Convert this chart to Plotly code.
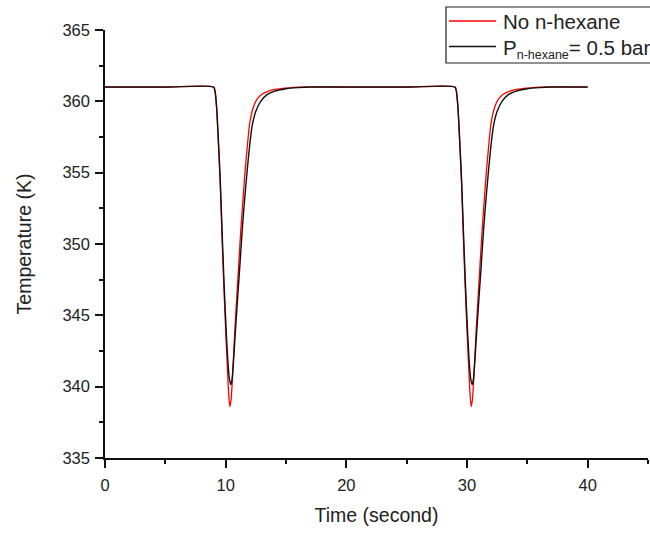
import plotly.graph_objects as go

# Time (s) and temperature (K)
t_no_hexane = [0, 5, 9.0, 9.12, 9.25, 9.4, 9.55, 9.7, 9.85, 10.0, 10.15, 10.25, 10.35, 10.45,
               10.6, 10.75, 10.9, 11.07, 11.25, 11.45, 11.6, 11.8, 12.0, 12.3, 12.6, 13.0, 13.5,
               14.2, 15.0, 16.0, 20.0, 25.0,
               29.0, 29.12, 29.25, 29.4, 29.55, 29.7, 29.85, 30.0, 30.15, 30.25, 30.35, 30.45,
               30.6, 30.75, 30.9, 31.07, 31.25, 31.45, 31.6, 31.8, 32.0, 32.3, 32.6, 33.0, 33.5,
               34.2, 35.0, 36.0, 40.0]
T_no_hexane = [361.0, 361.0, 361.0, 360.7, 359.5, 357.0, 354.2, 350.5, 347.0, 344.0, 341.2, 339.5,
               338.6, 339.1, 341.2, 343.8, 346.0, 348.4, 350.9, 353.3, 355.0, 356.9, 358.5, 359.6,
               360.15, 360.5, 360.7, 360.85, 360.93, 361.0, 361.0, 361.0,
               361.0, 360.7, 359.5, 357.0, 354.2, 350.5, 347.0, 344.0, 341.2, 339.5,
               338.6, 339.1, 341.2, 343.8, 346.0, 348.4, 350.9, 353.3, 355.0, 356.9, 358.5, 359.6,
               360.15, 360.5, 360.7, 360.85, 360.93, 361.0, 361.0]

t_hexane = [0, 5, 9.0, 9.12, 9.25, 9.4, 9.55, 9.7, 9.85, 10.0, 10.15, 10.3, 10.42, 10.52, 10.65,
            10.8, 11.0, 11.17, 11.4, 11.6, 11.8, 12.0, 12.2, 12.5, 12.9, 13.4, 14.0, 15.0, 16.0,
            17.0, 20.0, 25.0,
            29.0, 29.12, 29.25, 29.4, 29.55, 29.7, 29.85, 30.0, 30.15, 30.3, 30.42, 30.52, 30.65,
            30.8, 31.0, 31.17, 31.4, 31.6, 31.8, 32.0, 32.2, 32.5, 32.9, 33.4, 34.0, 35.0, 36.0,
            37.0, 40.0]
T_hexane = [361.0, 361.0, 361.0, 360.7, 359.6, 357.2, 354.5, 351.0, 347.6, 344.7, 342.2, 340.6,
            340.15, 340.45, 341.8, 343.8, 346.3, 348.4, 351.3, 353.4, 355.3, 357.0, 358.3, 359.3,
            360.0, 360.45, 360.7, 360.88, 360.96, 361.0, 361.0, 361.0,
            361.0, 360.7, 359.6, 357.2, 354.5, 351.0, 347.6, 344.7, 342.2, 340.6,
            340.15, 340.45, 341.8, 343.8, 346.3, 348.4, 351.3, 353.4, 355.3, 357.0, 358.3, 359.3,
            360.0, 360.45, 360.7, 360.88, 360.96, 361.0, 361.0]

series_names = ["No n-hexane",
                "P<sub><span style='font-size:12.5px'>n-hexane</span></sub>= 0.5 bar"]

FONT = "Liberation Sans, Arial, sans-serif"

fig = go.Figure()
fig.add_trace(go.Scatter(x=t_no_hexane, y=T_no_hexane, mode="lines", name="No n-hexane",
                         line=dict(color="#ff0000", width=1.3, shape="spline", smoothing=0.7),
                         showlegend=False))
fig.add_trace(go.Scatter(x=t_hexane, y=T_hexane, mode="lines", name="P n-hexane = 0.5 bar",
                         line=dict(color="#111111", width=1.4, shape="spline", smoothing=0.7),
                         showlegend=False))

axis_common = dict(showline=True, linecolor="#111", linewidth=1.5, ticks="outside",
                   ticklen=8, tickwidth=1.5, tickcolor="#111", showgrid=False, zeroline=False,
                   mirror=False, tickfont=dict(family=FONT, size=16.5, color="#222"))

fig.update_xaxes(range=[0, 45], dtick=10, tick0=0, ticklabelstandoff=3,
                 minor=dict(ticks="outside", dtick=5, ticklen=4, tickwidth=1.5, tickcolor="#111"),
                 title=dict(text="Time (second)", font=dict(family=FONT, size=19.5, color="#222"),
                            standoff=16),
                 **axis_common)
fig.update_yaxes(range=[335, 365], dtick=5, tick0=335, ticklabelstandoff=2,
                 minor=dict(ticks="outside", dtick=2.5, ticklen=4, tickwidth=1.5, tickcolor="#111"),
                 title=dict(text="Temperature (K)", font=dict(family=FONT, size=19.5, color="#222"),
                            standoff=26),
                 **axis_common)

# Legend box drawn by hand (paper coords relative to the plot area)
X0, W = 105.0, 543.0
Y1, H = 458.0, 428.0
def px(x):
    return (x - X0) / W
def py(y):
    return (Y1 - y) / H

fig.add_shape(type="rect", xref="paper", yref="paper", x0=px(446), x1=px(700), y0=py(63), y1=py(7),
              line=dict(color="#222", width=1.2), fillcolor="white")
fig.add_shape(type="line", xref="paper", yref="paper", x0=px(449), x1=px(496), y0=py(21), y1=py(21),
              line=dict(color="#ff0000", width=1.3))
fig.add_shape(type="line", xref="paper", yref="paper", x0=px(449), x1=px(496), y0=py(46.5), y1=py(46.5),
              line=dict(color="#111", width=1.4))
fig.add_annotation(xref="paper", yref="paper", x=px(501), y=py(21.5), text=series_names[0],
                   showarrow=False, xanchor="left", yanchor="middle",
                   font=dict(family=FONT, size=20.5, color="#222"))
fig.add_annotation(xref="paper", yref="paper", x=px(501), y=py(49), text=series_names[1],
                   showarrow=False, xanchor="left", yanchor="middle",
                   font=dict(family=FONT, size=20.5, color="#222"))

fig.update_layout(width=650, height=533, margin=dict(l=105, r=2, t=30, b=75, autoexpand=False),
                  paper_bgcolor="white", plot_bgcolor="white", showlegend=False,
                  font=dict(family=FONT, color="#222"))

# remove the browser's default 8px body margin so the figure fills the window exactly
fig.write_html("out.html", config={"displayModeBar": False},
               post_script="document.body.style.margin='0px';document.body.style.overflow='hidden';")
